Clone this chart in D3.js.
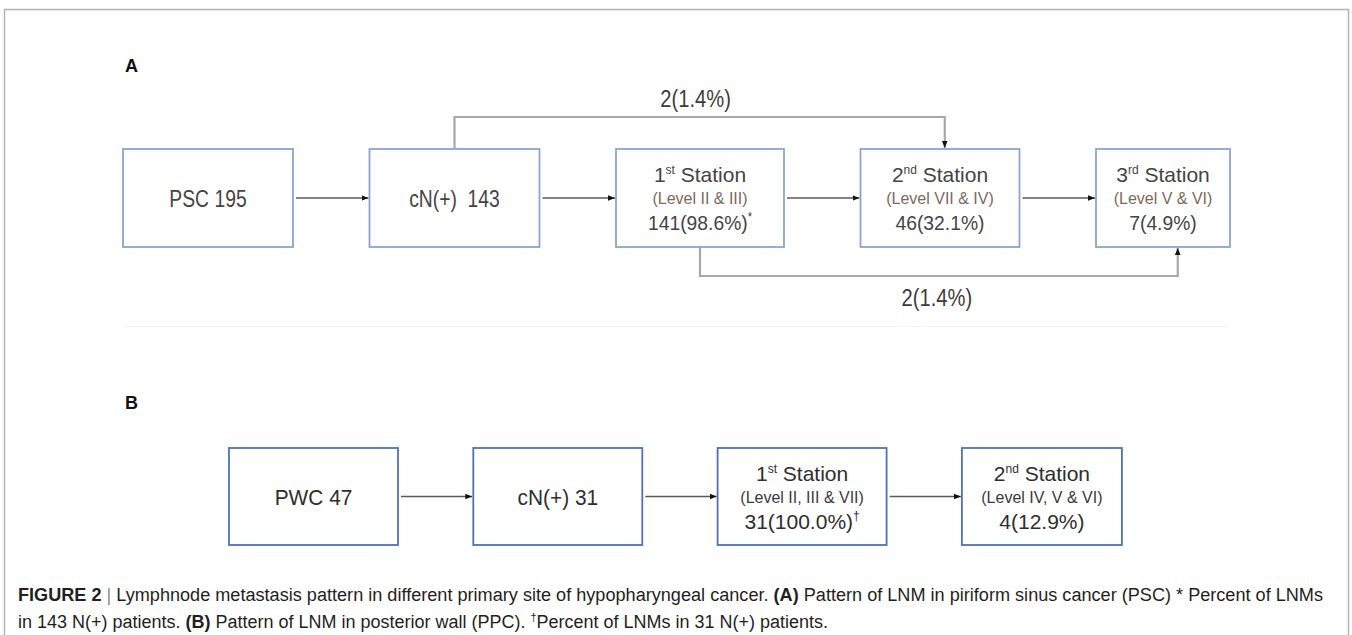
<!DOCTYPE html>
<html>
<head>
<meta charset="utf-8">
<script src="https://cdn.jsdelivr.net/npm/d3@7"></script>
<style>
  body { margin: 0; background: #fff; }
  text { font-family: "Liberation Sans", Arial, sans-serif; }
</style>
</head>
<body>
<script>
// panel A : piriform sinus cancer
const nodesA = ["PSC", "cN(+) ", "1st Station", "2nd Station", "3rd Station"];
const countsA = [195, 143, 141, 46, 7];
const pctsA = [null, null, 98.6, 32.1, 4.9];
const levelsA = [null, null, "(Level II & III)", "(Level VII & IV)", "(Level V & VI)"];
const marksA = ["", "", "*", "", ""];
const skipFromA = [1, 2];
const skipToA = [3, 4];
const skipCountA = [2, 2];
const skipPctA = [1.4, 1.4];

// panel B : posterior wall
const nodesB = ["PWC", "cN(+)", "1st Station", "2nd Station"];
const countsB = [47, 31, 31, 4];
const pctsB = [null, null, 100.0, 12.9];
const levelsB = [null, null, "(Level II, III & VII)", "(Level IV, V & VI)"];
const marksB = ["", "", "\u2020", ""];

const captionLine1 = [
  ["FIGURE 2", "b"], [" | ", "bar"],
  ["Lymphnode metastasis pattern in different primary site of hypopharyngeal cancer. ", ""],
  ["(A)", "b"], [" Pattern of LNM in piriform sinus cancer (PSC) * Percent of LNMs", ""]
];
const captionLine2 = [
  ["in 143 N(+) patients. ", ""], ["(B)", "b"],
  [" Pattern of LNM in posterior wall (PPC). ", ""], ["\u2020", "sup"],
  ["Percent of LNMs in 31 N(+) patients.", "after"]
];

const W = 1352, H = 635;

const svg = d3.select("body").append("svg")
    .attr("width", W)
    .attr("height", H);

const defs = svg.append("defs");
defs.append("marker")
    .attr("id", "head")
    .attr("markerUnits", "userSpaceOnUse")
    .attr("viewBox", "0 0 8 8")
    .attr("refX", 8).attr("refY", 4)
    .attr("markerWidth", 7).attr("markerHeight", 7)
    .attr("orient", "auto")
  .append("path")
    .attr("d", "M0,0.8 L8,4 L0,7.2 Z")
    .attr("fill", "#111");

// outer frame
svg.append("rect")
    .attr("x", 4.5).attr("y", 9.5)
    .attr("width", 1344).attr("height", 700)
    .attr("fill", "none")
    .attr("stroke", "#b3b3b3")
    .attr("stroke-width", 1.5);

// faint rule between panels
svg.append("line")
    .attr("x1", 124).attr("x2", 1228)
    .attr("y1", 326.5).attr("y2", 326.5)
    .attr("stroke", "#f3f3f3");

function boxPositions(layout, n) {
  let left = layout.x0;
  const out = [];
  for (let i = 0; i < n; i++) {
    out.push({ x: left, w: layout.widths[i] });
    left += layout.widths[i] + layout.gap;
  }
  return out;
}

function drawPanel(p) {
  const g = svg.append("g");
  const pos = boxPositions(p.layout, p.nodes.length);
  const L = p.layout;
  const yMid = L.y + L.h / 2;

  g.append("text")
      .attr("x", 125).attr("y", L.letterY)
      .attr("font-weight", "bold")
      .attr("font-size", 18)
      .attr("fill", "#111")
      .text(p.letter);

  // straight arrows between neighbours
  g.selectAll(".step")
    .data(d3.range(p.nodes.length - 1))
    .enter().append("line")
      .attr("x1", i => pos[i].x + pos[i].w + 3)
      .attr("x2", i => pos[i + 1].x - 1)
      .attr("y1", yMid).attr("y2", yMid)
      .attr("stroke", "#5a5a5a")
      .attr("stroke-width", 1.3)
      .attr("marker-end", "url(#head)");

  // skip links (over / under)
  (p.skipFrom || []).forEach((from, k) => {
    const to = p.skipTo[k];
    const above = k === 0;
    const xs = pos[from].x + pos[from].w / 2;
    const xe = pos[to].x + pos[to].w * L.skipEnd[k];
    const yEdge = above ? L.y : L.y + L.h;
    const yRun = above ? L.y - 32 : L.y + L.h + 29;
    g.append("path")
        .attr("d", d3.line()([[xs, yEdge], [xs, yRun], [xe, yRun], [xe, above ? yEdge - 1 : yEdge + 1]]))
        .attr("fill", "none")
        .attr("stroke", "#a8a8a8")
        .attr("stroke-width", 2.2)
        .attr("marker-end", "url(#head)");
    g.append("text")
        .attr("transform", "translate(" + ((xs + xe) / 2 - (above ? 4 : 2)) + "," + (above ? yRun - 10.5 : yRun + 30) + ") scale(0.84,1)")
        .attr("text-anchor", "middle")
        .attr("font-size", 24)
        .attr("fill", "#3c3c3c")
        .text(p.skipCount[k] + "(" + p.skipPct[k].toFixed(1) + "%)");
  });

  const boxes = g.selectAll(".node")
    .data(p.nodes.map((d, i) => i))
    .enter().append("g")
      .attr("transform", i => "translate(" + (pos[i].x + pos[i].w / 2) + ",0)");

  boxes.append("rect")
      .attr("x", i => -pos[i].w / 2)
      .attr("y", L.y)
      .attr("width", i => pos[i].w)
      .attr("height", L.h)
      .attr("fill", "#fff")
      .attr("stroke", p.boxStroke)
      .attr("stroke-width", 1.8);

  boxes.each(function(i) {
    const b = d3.select(this);
    const level = p.levels[i];
    if (!level) {
      b.append("text")
          .attr("transform", "translate(0," + (yMid + 8.5) + ") scale(" + p.mainScale + ",1)")
          .attr("text-anchor", "middle")
          .attr("font-size", p.mainSize)
          .attr("fill", p.textColor)
          .style("white-space", "pre")
          .text(p.nodes[i] + " " + p.counts[i]);
      return;
    }
    const m = p.nodes[i].match(/^(\d)(st|nd|rd) (.*)$/);
    const t = b.append("text")
        .attr("y", yMid - 16)
        .attr("text-anchor", "middle")
        .attr("font-size", 21)
        .attr("fill", p.textColor);
    t.append("tspan").text(m[1]);
    t.append("tspan").attr("font-size", 12).attr("dy", -8).text(m[2]);
    t.append("tspan").attr("dy", 8).text(" " + m[3]);

    b.append("text")
        .attr("y", yMid + 6)
        .attr("text-anchor", "middle")
        .attr("font-size", p.levelSize)
        .attr("fill", p.levelColor)
        .text(level);

    const c = b.append("text")
        .attr("transform", "translate(0," + (yMid + 32) + ") scale(" + p.countScale + ",1)")
        .attr("text-anchor", "middle")
        .attr("font-size", 21)
        .attr("fill", p.textColor);
    c.append("tspan").text(p.counts[i] + "(" + p.pcts[i].toFixed(1) + "%)");
    if (p.marks[i]) {
      c.append("tspan").attr("font-size", 12).attr("dy", -9).text(p.marks[i]);
    }
  });
}

drawPanel({
  letter: "A",
  nodes: nodesA, counts: countsA, pcts: pctsA, levels: levelsA, marks: marksA,
  skipFrom: skipFromA, skipTo: skipToA, skipCount: skipCountA, skipPct: skipPctA,
  layout: { x0: 123, gap: 76.5, widths: [170, 170, 168, 159, 134], y: 149, h: 98, letterY: 72, skipEnd: [0.53, 0.61] },
  boxStroke: "#8ea3cf", textColor: "#444", levelColor: "#7b6a5c",
  mainSize: 23, mainScale: 0.84, countScale: 0.92, levelSize: 16
});

drawPanel({
  letter: "B",
  nodes: nodesB, counts: countsB, pcts: pctsB, levels: levelsB, marks: marksB,
  layout: { x0: 229, gap: 75.3, widths: [169, 169, 169, 160], y: 448, h: 97, letterY: 409 },
  boxStroke: "#4f71b5", textColor: "#2e2e2e", levelColor: "#3a3a3a",
  mainSize: 22, mainScale: 0.95, countScale: 1, levelSize: 16
});

// caption
function captionLine(parts, y, len) {
  const t = svg.append("text")
      .attr("x", 18).attr("y", y)
      .attr("font-size", 18)
      .attr("fill", "#231f20")
      .attr("textLength", len)
      .attr("lengthAdjust", "spacingAndGlyphs")
      .style("white-space", "pre");
  parts.forEach(([s, k]) => {
    const ts = t.append("tspan").text(s);
    if (k === "b") ts.attr("font-weight", "bold");
    if (k === "bar") ts.attr("fill", "#8c8c8c");
    if (k === "sup") ts.attr("font-size", 11).attr("dy", -7);
    if (k === "after") ts.attr("dy", 7);
  });
  return t;
}
captionLine(captionLine1, 601, 1305);
captionLine(captionLine2, 628, 810);
</script>
</body>
</html>
